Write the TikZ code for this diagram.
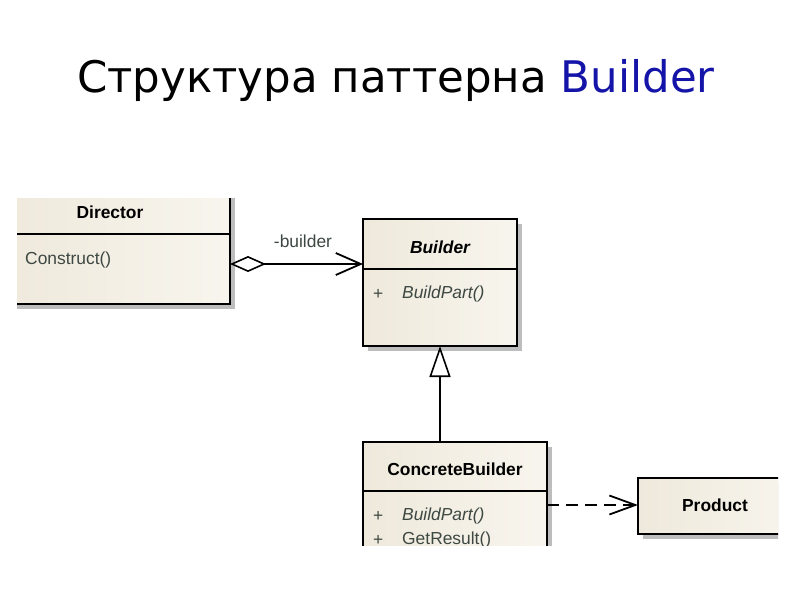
\documentclass[tikz,border=0pt]{standalone}
\usepackage{fontspec}
\setmainfont{Liberation Sans}
\newfontfamily\titlefont{DejaVu Sans}
\usetikzlibrary{arrows.meta,shadows}
\definecolor{boxfillL}{HTML}{EEE9DB}
\definecolor{boxfillR}{HTML}{F8F5EE}
\definecolor{shadowc}{HTML}{BDBDBD}
\definecolor{methc}{HTML}{3E4842}
\definecolor{titleblue}{HTML}{1414A8}
\tikzset{
  clsbox/.style={draw=black, line width=1.8pt, left color=boxfillL, right color=boxfillR,
    inner sep=0pt, outer sep=0pt,
    drop shadow={shadow xshift=5pt, shadow yshift=-5pt, fill=shadowc, opacity=1}},
  sepline/.style={line width=1.6pt},
  clsname/.style={font=\fontsize{17.4}{19}\selectfont\bfseries, inner sep=0pt},
  meth/.style={font=\fontsize{17.4}{19}\selectfont, text=methc, inner sep=0pt, anchor=west},
  conn/.style={line width=1.8pt},
}
\begin{document}
\begin{tikzpicture}[x=1pt,y=-1pt]
\useasboundingbox (0,0) rectangle (800,600);
\fill[white] (0,0) rectangle (800,600);

% title
\node[anchor=base west, inner sep=0pt, font=\titlefont\fontsize{43.5}{50}\selectfont] (title) at (77,92)
  {Структура паттерна \textcolor{titleblue}{Builder}};

% Director (cut at left and top)
\begin{scope}
  \clip (17,198) rectangle (800,600);
  \node[clsbox, minimum width=230pt, minimum height=124pt] (director) at (115,242) {};
  \draw[sepline] (0,234) -- (230,234);
\end{scope}
\node[clsname] (dirname) at (110,212) {Director};
\node[meth] (dirop) at (25,260) {Construct()};

% Builder
\node[clsbox, minimum width=154pt, minimum height=127pt] (builder) at (440,282.5) {};
\draw[sepline] (builder.west |- 0,269) -- (builder.east |- 0,269);
\node[clsname, font=\fontsize{17.4}{19}\selectfont\bfseries\itshape] (bname) at (440,247) {Builder};
\node[meth] (bplus) at (373,294) {+};
\node[meth, font=\fontsize{17.4}{19}\selectfont\itshape] (bop) at (402,294) {BuildPart()};

% ConcreteBuilder (cut at bottom)
\begin{scope}
  \clip (0,0) rectangle (800,545);
  \node[clsbox, minimum width=184pt, minimum height=140pt] (concrete) at (455,512) {};
  \draw[sepline] (concrete.west |- 0,491) -- (concrete.east |- 0,491);
  \node[clsname] (cname) at (455,469) {ConcreteBuilder};
  \node[meth] (cplus1) at (373,516) {+};
  \node[meth, font=\fontsize{17.4}{19}\selectfont\itshape] (cop1) at (402,516) {BuildPart()};
  \node[meth] (cplus2) at (373,540) {+};
  \node[meth] (cop2) at (402,540) {GetResult()};
\end{scope}

% Product (cut at right)
\begin{scope}
  \clip (0,0) rectangle (778,600);
  \node[clsbox, minimum width=160pt, minimum height=56pt] (product) at (718,506) {};
\end{scope}
\node[clsname] (pname) at (715,505) {Product};

% aggregation
\draw[conn, {Diamond[open, fill=white, length=36pt, width=16pt, line width=1.6pt]}-{Straight Barb[length=25pt, width=22pt, line width=1.8pt]}]
  (director.east |- 0,264) -- (builder.west |- 0,264);
\node[font=\fontsize{17.4}{19}\selectfont, text=methc, inner sep=0pt] (rolelbl) at (303,241) {-builder};

% generalization
\draw[conn, -{Triangle[open, fill=white, length=31pt, width=21pt, line width=1.6pt]}]
  (builder.south |- concrete.north) -- (builder.south);

% dependency
\draw[conn, dash pattern=on 12pt off 7pt, -{Straight Barb[length=26pt, width=19pt, line width=1.8pt]}]
  (concrete.east |- 0,505) -- (product.west |- 0,505);
\end{tikzpicture}
\end{document}
